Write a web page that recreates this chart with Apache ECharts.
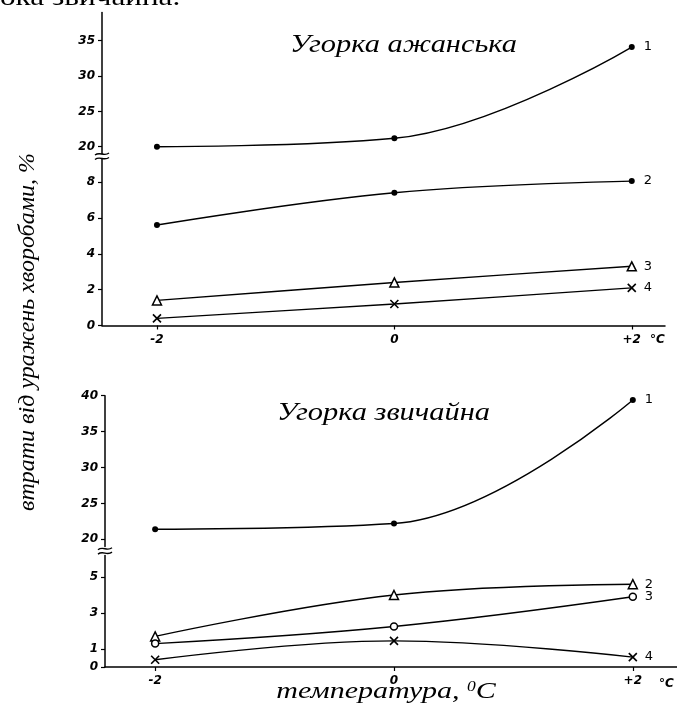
<!DOCTYPE html>
<html><head><meta charset="utf-8">
<script src="https://cdn.jsdelivr.net/npm/echarts@6/dist/echarts.min.js"></script>
<style>html,body{margin:0;padding:0;background:#fff}#c{width:677px;height:706px}</style>
</head><body><div id="c"></div>
<script>
// ---- data ----
const temps = [-2, 0, 2];
const xTickLabels = ['-2', '0', '+2'];
// Угорка ажанська
const ajan1 = [20.0, 21.2, 34.1];
const ajan2 = [5.6, 7.4, 8.05];
const ajan3 = [1.4, 2.4, 3.3];
const ajan4 = [0.4, 1.2, 2.1];
// Угорка звичайна
const zvych1 = [21.4, 22.2, 39.4];
const zvych2 = [1.7, 4.0, 4.6];
const zvych3 = [1.3, 2.25, 3.9];
const zvych4 = [0.4, 1.45, 0.55];
// tick labels
const topUpperTicks = [20, 25, 30, 35];
const topLowerTicks = [0, 2, 4, 6, 8];
const botUpperTicks = [20, 25, 30, 35, 40];
const botLowerTicks = [0, 1, 3, 5];
const curveNames = ['1', '2', '3', '4'];

const chart = echarts.init(document.getElementById('c'), null, {renderer: 'canvas'});
const pts = v => temps.map((t, i) => [t, v[i]]);
const tickFont = {color: '#000', fontStyle: 'italic', fontWeight: 'bold', fontSize: 12, fontFamily: 'DejaVu Sans'};
const serif = 'Liberation Serif';

function yAx(grid, min, max, ticks) {
  return {
    type: 'value', gridIndex: grid, min: min, max: max,
    axisLine: {show: true, onZero: false, lineStyle: {color: '#000', width: 1.5}},
    axisTick: {show: true, customValues: ticks, length: 4, lineStyle: {color: '#000', width: 1.2}},
    axisLabel: Object.assign({customValues: ticks, margin: 7}, tickFont),
    splitLine: {show: false}
  };
}
function xAx(grid, min, max, show) {
  return {
    type: 'value', gridIndex: grid, min: min, max: max, show: show,
    axisLine: {show: true, onZero: false, lineStyle: {color: '#000', width: 1.5}},
    axisTick: {show: true, customValues: temps, length: 4, lineStyle: {color: '#000', width: 1.2}},
    axisLabel: Object.assign({customValues: temps, margin: 8,
      formatter: v => xTickLabels[temps.indexOf(v)] || ''}, tickFont),
    splitLine: {show: false}
  };
}
const crossPath = 'path://M0,0L10,10M10,0L0,10';
function ser(grid, vals, kind, name, smooth) {
  let sym = 'circle', size = 6, item = {color: '#000'};
  if (kind === 'tri') { sym = 'triangle'; size = 9; item = {color: '#fff', borderColor: '#000', borderWidth: 1.5}; }
  if (kind === 'ocirc') { sym = 'circle'; size = 7; item = {color: '#fff', borderColor: '#000', borderWidth: 1.5}; }
  if (kind === 'cross') { sym = crossPath; size = 8; item = {color: 'none', borderColor: '#000', borderWidth: 1.6}; }
  return {
    type: 'line', xAxisIndex: grid, yAxisIndex: grid, data: pts(vals),
    smooth: smooth, symbol: sym, symbolSize: size, showSymbol: true,
    lineStyle: {color: '#000', width: 1.4}, itemStyle: item,
    endLabel: {show: true, formatter: name, distance: 12, color: '#000', fontSize: 13, fontFamily: 'DejaVu Sans'},
    z: 3
  };
}

const option = {
  animation: false,
  backgroundColor: '#fff',
  grid: [
    {left: 102, top: 12.4, width: 563, height: 141.4},
    {left: 102, top: 158.7, width: 563, height: 166.8},
    {left: 105, top: 395.7, width: 572, height: 150.8},
    {left: 105, top: 555.4, width: 572, height: 111.6}
  ],
  xAxis: [
    xAx(0, -2.463, 2.28, false),
    xAx(1, -2.463, 2.28, true),
    xAx(2, -2.42, 2.37, false),
    xAx(3, -2.42, 2.37, true)
  ],
  yAxis: [
    yAx(0, 19, 39, topUpperTicks),
    yAx(1, 0, 9.3, topLowerTicks),
    yAx(2, 19, 40, botUpperTicks),
    yAx(3, 0, 6.2, botLowerTicks)
  ],
  series: [
    ser(0, ajan1, 'dot', curveNames[0], 0.4),
    ser(1, ajan2, 'dot', curveNames[1], 0.4),
    ser(1, ajan3, 'tri', curveNames[2], 0.2),
    ser(1, ajan4, 'cross', curveNames[3], 0.2),
    ser(2, zvych1, 'dot', curveNames[0], 0.4),
    ser(3, zvych2, 'tri', curveNames[1], 0.4),
    ser(3, zvych3, 'ocirc', curveNames[2], 0.4),
    ser(3, zvych4, 'cross', curveNames[3], 0.4)
  ]
};
chart.setOption(option);

// decorations: axis breaks and texts
function breakMark(x, yUp, yLow) {
  const yTop = chart.convertToPixel({yAxisIndex: yUp}, 19);
  const yBot = chart.convertToPixel({yAxisIndex: yLow}, option.yAxis[yLow].max);
  const ym = (yTop + yBot) / 2;
  const mk = dy => ({type: 'bezierCurve', shape: {x1: x - 7, y1: ym + dy + 1, x2: x + 7, y2: ym + dy - 1,
      cpx1: x - 2, cpy1: ym + dy - 3, cpx2: x + 2, cpy2: ym + dy + 3},
      style: {stroke: '#000', lineWidth: 1.4, fill: null}});
  return [mk(-2.2), mk(2.2)];
}
const xTop = chart.convertToPixel({xAxisIndex: 1}, -2.463);
const xBot = chart.convertToPixel({xAxisIndex: 3}, -2.42);
const it = sz => 'italic ' + sz + 'px "' + serif + '"';
const graphics = [].concat(
  breakMark(xTop, 0, 1),
  breakMark(xBot, 2, 3),
  [
    {type: 'text', x: 0, y: -15, scaleX: 1.2, style: {text: 'ока звичайна.', font: '26px "' + serif + '"', fill: '#000'}},
    {type: 'text', x: 290, y: 45, scaleX: 1.17, style: {text: 'Угорка ажанська', font: it(26), fill: '#000', textVerticalAlign: 'middle'}},
    {type: 'text', x: 277, y: 413, scaleX: 1.17, style: {text: 'Угорка звичайна', font: it(26), fill: '#000', textVerticalAlign: 'middle'}},
    {type: 'text', x: 386, y: 692, scaleX: 1.25, style: {
      text: '{m|температура, }{s|0}{m|C}', textAlign: 'center', textVerticalAlign: 'middle',
      rich: {
        m: {font: it(24), fill: '#000', verticalAlign: 'bottom'},
        s: {font: it(14), fill: '#000', verticalAlign: 'top'}
      }}},
    {type: 'text', x: 28, y: 332, rotation: Math.PI / 2, style: {text: 'втрати від уражень хворобами, %', font: it(24), fill: '#000', textAlign: 'center', textVerticalAlign: 'middle'}},
    {type: 'text', x: 650, y: 340, style: {text: '°C', font: 'italic bold 12px "DejaVu Sans"', fill: '#000', textVerticalAlign: 'middle'}},
    {type: 'text', x: 659, y: 684, style: {text: '°C', font: 'italic bold 12px "DejaVu Sans"', fill: '#000', textVerticalAlign: 'middle'}}
  ]
);
chart.setOption({graphic: graphics});
</script>
</body></html>
